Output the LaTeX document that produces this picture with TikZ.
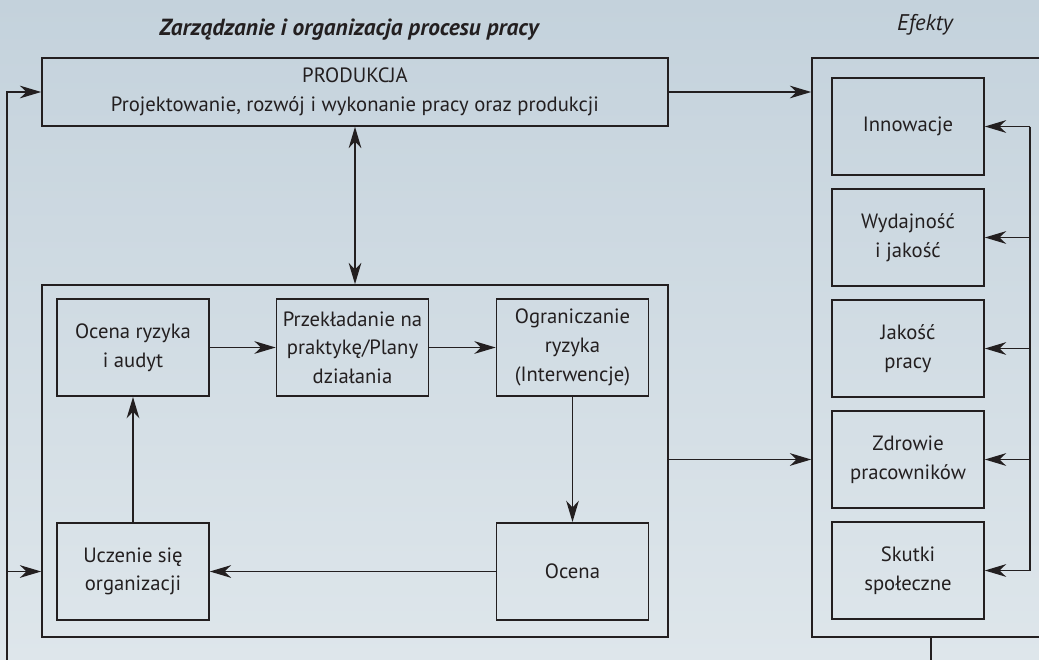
\documentclass[tikz,border=0pt]{standalone}
\usepackage{fontspec}
\setmainfont{PT Sans}
\usetikzlibrary{arrows.meta,positioning}

\definecolor{lineclr}{RGB}{35,31,32}
\definecolor{bgtop}{RGB}{196,210,220}
\definecolor{bgbot}{RGB}{222,230,235}

\tikzset{
  box/.style={draw=lineclr, line width=1.2pt, text=lineclr, align=center,
    inner sep=0pt, minimum width=114pt, minimum height=73pt,
    font=\fontsize{15.5}{21.5}\selectfont},
  frame/.style={draw=lineclr, line width=1.2pt},
  line/.style={draw=lineclr, line width=1.2pt},
  tip/.tip={Stealth[length=16pt,width=9.5pt,inset=5pt]},
  arr/.style={line, -tip},
  darr/.style={line, tip-tip},
}

\begin{document}
\begin{tikzpicture}[x=0.75pt,y=-0.75pt]

% background
\fill[top color=bgtop, bottom color=bgbot] (0,0) rectangle (1039,660);
\useasboundingbox (0,0) rectangle (1039,660);

% headings
\node[text=lineclr, font=\fontsize{17.5}{20}\selectfont\bfseries\itshape] (title) at (349,30) {Zarządzanie i organizacja procesu pracy};
\node[text=lineclr, font=\fontsize{17}{20}\selectfont\itshape] (efekty) at (925,25) {Efekty};

% outer boxes
\node[box, minimum width=469.5pt, minimum height=51pt] (prod) at (355,92) {PRODUKCJA\\Projektowanie, rozwój i wykonanie pracy oraz produkcji};
\node[frame, minimum width=469.5pt, minimum height=264pt] (proc) at (355,461) {};
\node[frame, minimum width=178.5pt, minimum height=434pt] (eff) at (931,347.5) {};

% process loop
\node[box] (ryz) at (133,347.5) {Ocena ryzyka\\i audyt};
\node[box] (plan) at (352.5,347.5) {Przekładanie na\\praktykę/Plany\\działania};
\node[box] (ogr) at (572.5,347.5) {Ograniczanie\\ryzyka\\(Interwencje)};
\node[box] (ocena) at (572.5,571.5) {Ocena};
\node[box] (ucz) at (133,571.5) {Uczenie się\\organizacji};

\draw[arr] (ryz) -- (plan);
\draw[arr] (plan) -- (ogr);
\draw[arr] (ogr) -- (ocena);
\draw[arr] (ocena) -- (ucz);
\draw[arr] (ucz) -- (ryz);

% effects
\node[box] (inn) at (908,126.5) {Innowacje};
\node[box] (wyd) at (908,237.5) {Wydajność\\i jakość};
\node[box] (jak) at (908,348.5) {Jakość\\pracy};
\node[box] (zdr) at (908,459.5) {Zdrowie\\pracowników};
\node[box] (skut) at (908,570.5) {Skutki\\społeczne};

\coordinate (brtop) at (1030,126.5);
\coordinate (brbot) at (1030,570.5);
\draw[line] (brtop) -- (brbot);
\foreach \n in {inn,wyd,jak,zdr,skut}
    \draw[arr] (\n.east -| brtop) -- (\n.east);

% links between the big boxes
\draw[darr] (prod.south) -- (proc.north);
\draw[arr] (prod.east) -- (eff.west |- prod.east);
\draw[arr] (proc.east |- zdr) -- (eff.west |- zdr);

% feedback
\coordinate (fb) at (7,665);
\draw[line] (eff.south) -- (eff.south |- fb);
\draw[arr] (fb) |- (prod.west);
\draw[arr] (fb |- ucz) -- (proc.west |- ucz);

\end{tikzpicture}
\end{document}
